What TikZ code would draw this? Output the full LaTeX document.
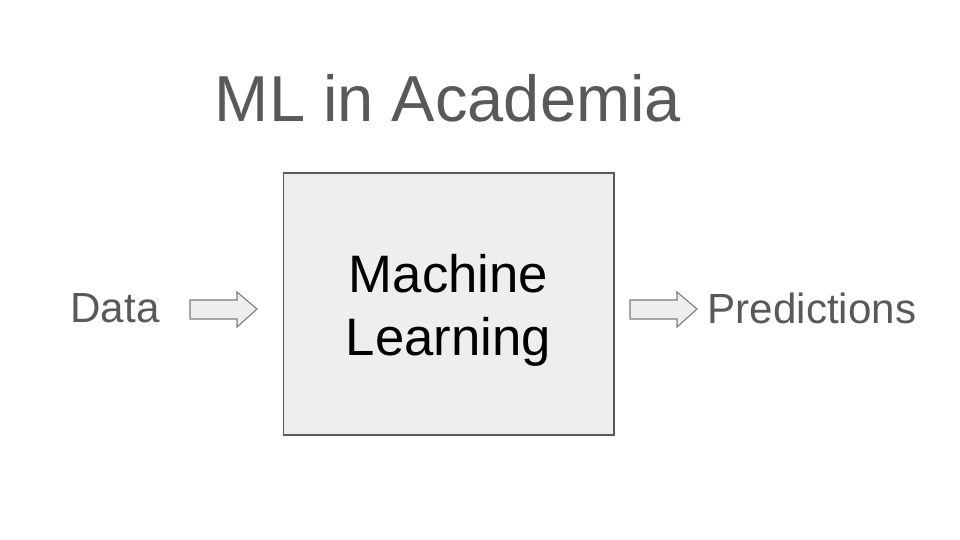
\documentclass[tikz,border=0pt]{standalone}
\usepackage{fontspec}
\setmainfont{Liberation Sans}
\usetikzlibrary{positioning}
\definecolor{textgray}{HTML}{595959}
\definecolor{boxfill}{HTML}{EEEEEE}
\begin{document}
\begin{tikzpicture}[x=0.02cm, y=-0.02cm,
                    sidetext/.style={text=textgray, font=\fontsize{24}{28}\selectfont},
                    flowarrow/.style={draw=textgray!80, fill=boxfill, line width=0.6pt, line join=miter}]
  \useasboundingbox (0,0) rectangle (960,540);

  % TITLE
  \node[text=textgray, font=\fontsize{37}{44}\selectfont] (title) at (448,98) {ML in Academia};

  % BOX
  \node[draw=textgray, fill=boxfill, minimum width=6.62cm, minimum height=5.24cm,
        line width=0.6pt] (ml) at (448.5,304) {};
  \node[align=center, font=\fontsize{30}{36}\selectfont] (mltext) at (448.5,310) {Machine\\Learning};

  % INPUT AND OUTPUT
  \node[sidetext] (data) at (115,308) {Data};
  \node[sidetext] (pred) at (812,308) {Predictions};
  \coordinate (inarrow) at (190,309);
  \coordinate (outarrow) at (630,309);
  \foreach \a in {inarrow,outarrow}
    \draw[flowarrow] (\a) ++(0,-9) -- ++(47,0) -- ++(0,-8) -- ++(20,17)
      -- ++(-20,18) -- ++(0,-8) -- ++(-47,0) -- cycle;
\end{tikzpicture}
\end{document}
